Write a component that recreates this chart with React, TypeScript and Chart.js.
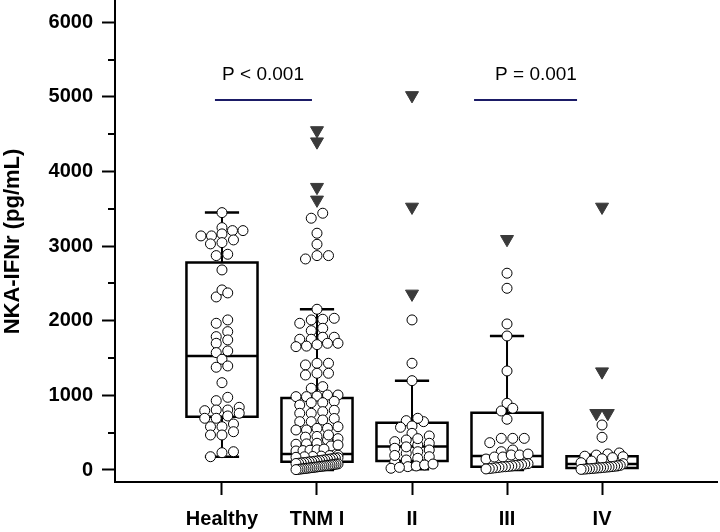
import React, { useEffect, useRef } from 'react';
import { Chart, registerables } from 'chart.js';

Chart.register(...registerables);

const FONT = '"Liberation Sans", Arial, Helvetica, sans-serif';

// ---------------- data ----------------
const CATEGORIES = ['Healthy', 'TNM I', 'II', 'III', 'IV'];
const Y_TICKS = [0, 1000, 2000, 3000, 4000, 5000, 6000];
const Y_MINOR_TICKS = [500, 1500, 2500, 3500, 4500, 5500];

const Q1 = [715, 112, 120, 45, 25];
const MEDIAN = [1528, 215, 315, 188, 80];
const Q3 = [2779, 965, 634, 768, 185];
const WHISKER_LOW = [178, 0, 10, 0, 0];
const WHISKER_HIGH = [3449, 2154, 1197, 1796, 205];

const HEALTHY_VALUES = [
  3449, 3248, 3208, 3208, 3137, 3137, 3164, 3030, 3047, 3083, 2873, 2891, 2681,
  2319, 2413, 2373, 1966, 2011, 1787, 1854, 1698, 1743, 1573, 1595, 1484, 1377,
  1394, 1170, 929, 974, 804, 795, 804, 840, 693, 693, 724, 760, 580, 580, 616,
  469, 469, 513, 245, 232, 178,
];
const TNM1_VALUES = [
  3374, 3441, 3173, 3025, 2828, 2873, 2873, 2154,
  1966, 2011, 2020, 2033, 1867, 1899, 1752, 1779, 1779, 1752, 1653, 1698, 1698,
  1680, 1660, 1408, 1430, 1430, 1273, 1296, 1296, 1095, 1117,
  983, 1005, 983, 1005, 990, 871, 902, 902, 920, 760, 760, 782, 800,
  648, 648, 670, 690, 536, 536, 558, 558, 580, 402, 420, 440, 450, 469,
  322, 335, 345, 350, 358, 255, 260, 265, 270, 280,
  198, 193, 186, 181, 177, 170, 164, 158, 153, 147, 142, 136, 131, 126, 121,
  117, 111, 108, 103, 99, 94, 90, 87, 82, 78, 73, 70, 66, 61, 58, 54, 51,
  47, 43, 39, 36, 33, 29, 25, 22, 18, 15, 12, 8, 5,
];
const STAGE2_VALUES = [
  2011, 1430, 1197, 648, 661, 693, 572, 590, 456, 491, 335, 358, 380, 402, 420,
  224, 245, 268, 291, 310, 111, 134, 157, 178, 195, 23, 45, 54, 67, 80, 35,
];
const STAGE3_VALUES = [
  2637, 2435, 1957, 1796, 1327, 894, 791, 827, 680, 366, 424, 424, 424, 245, 268,
  147, 174, 174, 201, 201, 214, 85, 80, 71, 64, 60, 54, 49, 44, 41, 35, 30, 24,
  19, 14,
];
const STAGE4_VALUES = [
  603, 438, 228, 215, 200, 185, 178, 165, 150, 120, 98, 85,
  62, 57, 51, 46, 41, 38, 34, 30, 27, 24, 20, 17, 14, 11, 8,
];
const GROUP_VALUES = [HEALTHY_VALUES, TNM1_VALUES, STAGE2_VALUES, STAGE3_VALUES, STAGE4_VALUES];

const OUTLIERS = [
  [],
  [4550, 4400, 3790, 3620],
  [5020, 3525, 2360],
  [3092],
  [3525, 1318, 760, 760],
];

const P_LABELS = ['P < 0.001', 'P = 0.001'];

// ---------------- styling / layout constants ----------------
const BOX_HALF = 0.374;
const CAP_HALF = 0.18;
const BRACKETS = [
  { from: -0.074, to: 0.947, textX: 0.432, lineY: 4959, textY: 5294 },
  { from: 2.653, to: 3.737, textX: 3.305, lineY: 4959, textY: 5294 },
];
const ROW_WINDOW_PX = 6;
const ROW_SPACING_PX = 11.5;
const ROW_MAXHALF_PX = 21;

function rowOffsets(values: number[], yPix: (v: number) => number): number[] {
  const order = values.map((_, i) => i).sort((a, b) => values[a] - values[b]);
  const out = new Array(values.length).fill(0);
  let i = 0;
  while (i < order.length) {
    const y0 = yPix(values[order[i]]);
    const group = [order[i]];
    let j = i + 1;
    while (j < order.length && Math.abs(yPix(values[order[j]]) - y0) <= ROW_WINDOW_PX) {
      group.push(order[j]);
      j++;
    }
    const n = group.length;
    const sp = n > 1 ? Math.min(ROW_SPACING_PX, (2 * ROW_MAXHALF_PX) / (n - 1)) : 0;
    group.forEach((idx, k) => {
      out[idx] = (k - (n - 1) / 2) * sp;
    });
    i = j;
  }
  return out;
}

const boxPlugin = {
  id: 'boxes',
  beforeDatasetsDraw(chart: any) {
    const { ctx } = chart;
    const x = chart.scales.x;
    const y = chart.scales.y;
    ctx.save();
    ctx.strokeStyle = '#000';
    ctx.lineCap = 'butt';
    CATEGORIES.forEach((_, i) => {
      const xc = x.getPixelForValue(i);
      const xl = x.getPixelForValue(i - BOX_HALF);
      const xr = x.getPixelForValue(i + BOX_HALF);
      const cl = x.getPixelForValue(i - CAP_HALF);
      const cr = x.getPixelForValue(i + CAP_HALF);
      const p1 = y.getPixelForValue(Q1[i]);
      const pm = y.getPixelForValue(MEDIAN[i]);
      const p3 = y.getPixelForValue(Q3[i]);
      const pl = y.getPixelForValue(WHISKER_LOW[i]);
      const ph = y.getPixelForValue(WHISKER_HIGH[i]);
      ctx.lineWidth = 2;
      ctx.beginPath();
      ctx.moveTo(xc, p3);
      ctx.lineTo(xc, ph);
      ctx.moveTo(xc, p1);
      ctx.lineTo(xc, pl);
      ctx.stroke();
      ctx.lineWidth = 2.5;
      ctx.beginPath();
      ctx.moveTo(cl, ph);
      ctx.lineTo(cr, ph);
      ctx.moveTo(cl, pl);
      ctx.lineTo(cr, pl);
      ctx.stroke();
      ctx.beginPath();
      ctx.rect(xl, p3, xr - xl, p1 - p3);
      ctx.moveTo(xl, pm);
      ctx.lineTo(xr, pm);
      ctx.stroke();
    });
    ctx.restore();
  },
};

const decorPlugin = {
  id: 'decor',
  afterDraw(chart: any) {
    const { ctx, chartArea } = chart;
    const x = chart.scales.x;
    const y = chart.scales.y;
    ctx.save();
    ctx.strokeStyle = '#000';
    ctx.lineWidth = 2;
    ctx.beginPath();
    Y_MINOR_TICKS.forEach((v) => {
      const py = Math.round(y.getPixelForValue(v));
      ctx.moveTo(chartArea.left - 7, py);
      ctx.lineTo(chartArea.left, py);
    });
    ctx.stroke();
    BRACKETS.forEach((b, i) => {
      ctx.strokeStyle = '#1b1b66';
      ctx.lineWidth = 2;
      ctx.beginPath();
      const ly = y.getPixelForValue(b.lineY);
      ctx.moveTo(x.getPixelForValue(b.from), ly);
      ctx.lineTo(x.getPixelForValue(b.to), ly);
      ctx.stroke();
      ctx.fillStyle = '#000';
      ctx.font = `19px ${FONT}`;
      ctx.textAlign = 'center';
      ctx.textBaseline = 'middle';
      ctx.fillText(P_LABELS[i], x.getPixelForValue(b.textX), y.getPixelForValue(b.textY));
    });
    ctx.restore();
  },
};

export default function App() {
  const ref = useRef<HTMLCanvasElement | null>(null);
  useEffect(() => {
    if (!ref.current) return;
    const initialCircles: any[] = [];
    GROUP_VALUES.forEach((vals, ci) => vals.forEach((v) => initialCircles.push({ x: ci, y: v })));
    const initialTris: any[] = [];
    OUTLIERS.forEach((vals, ci) => vals.forEach((v) => initialTris.push({ x: ci, y: v })));

    const chart = new Chart(ref.current, {
      type: 'scatter',
      data: {
        datasets: [
          {
            data: initialCircles,
            pointStyle: 'circle',
            pointRadius: 5,
            pointBackgroundColor: '#ffffff',
            pointBorderColor: '#000000',
            pointBorderWidth: 1,
          },
          {
            data: initialTris,
            pointStyle: 'triangle',
            pointRotation: 180,
            pointRadius: 7.5,
            pointBackgroundColor: '#3a3a3a',
            pointBorderColor: '#3a3a3a',
            pointBorderWidth: 1,
          },
        ],
      } as any,
      options: {
        animation: false,
        responsive: false,
        devicePixelRatio: 1,
        events: [],
        layout: { autoPadding: false, padding: { left: 0, right: 3, top: 1, bottom: 0 } },
        plugins: { legend: { display: false }, tooltip: { enabled: false } },
        scales: {
          x: {
            type: 'linear',
            min: -1.126,
            max: 5.21,
            afterBuildTicks: (s: any) => {
              s.ticks = CATEGORIES.map((_, i) => ({ value: i }));
            },
            afterFit: (s: any) => {
              s.height = 50;
              s.paddingLeft = 0;
              s.paddingRight = 0;
              s.paddingTop = 0;
              s.paddingBottom = 0;
            },
            ticks: {
              callback: (v: any) => CATEGORIES[v as number] ?? '',
              font: { family: FONT, size: 20, weight: 'bold' },
              color: '#000',
              padding: 12,
              maxRotation: 0,
              autoSkip: false,
            },
            grid: { drawOnChartArea: false, tickLength: 13, tickWidth: 2, tickColor: '#000' },
            border: { color: '#000', width: 2 },
          },
          y: {
            type: 'linear',
            min: -161,
            max: 6285,
            afterBuildTicks: (s: any) => {
              s.ticks = Y_TICKS.map((v) => ({ value: v }));
            },
            afterFit: (s: any) => {
              s.width = 115;
              s.paddingLeft = 0;
              s.paddingRight = 0;
              s.paddingTop = 0;
              s.paddingBottom = 0;
            },
            ticks: {
              font: { family: FONT, size: 20, weight: 'bold' },
              color: '#000',
              padding: 9,
              callback: (v: any) => String(v),
            },
            grid: { drawOnChartArea: false, tickLength: 13, tickWidth: 2, tickColor: '#000' },
            border: { color: '#000', width: 2 },
            title: {
              display: true,
              text: 'NKA-IFNr (pg/mL)',
              font: { family: FONT, size: 22, weight: 'bold' },
              color: '#000',
              padding: { top: 0, bottom: 0 },
            },
          },
        },
      } as any,
      plugins: [boxPlugin, decorPlugin],
    });

    const xs: any = chart.scales.x;
    const ys: any = chart.scales.y;
    const ppu = xs.getPixelForValue(1) - xs.getPixelForValue(0);
    const yPix = (v: number) => ys.getPixelForValue(v);
    const circles: any[] = [];
    GROUP_VALUES.forEach((vals, ci) => {
      const offs = rowOffsets(vals, yPix);
      vals.forEach((v, i) => circles.push({ x: ci + offs[i] / ppu, y: v }));
    });
    const tris: any[] = [];
    OUTLIERS.forEach((vals, ci) => {
      const offs = rowOffsets(vals, yPix);
      vals.forEach((v, i) => tris.push({ x: ci + offs[i] / ppu, y: v }));
    });
    chart.data.datasets[0].data = circles;
    chart.data.datasets[1].data = tris;
    chart.update();

    return () => chart.destroy();
  }, []);

  return (
    <div style={{ position: 'absolute', left: 0, top: 0, width: 720, height: 532, background: '#fff' }}>
      <canvas ref={ref} width={720} height={532} style={{ width: 720, height: 532, display: 'block' }} />
    </div>
  );
}
